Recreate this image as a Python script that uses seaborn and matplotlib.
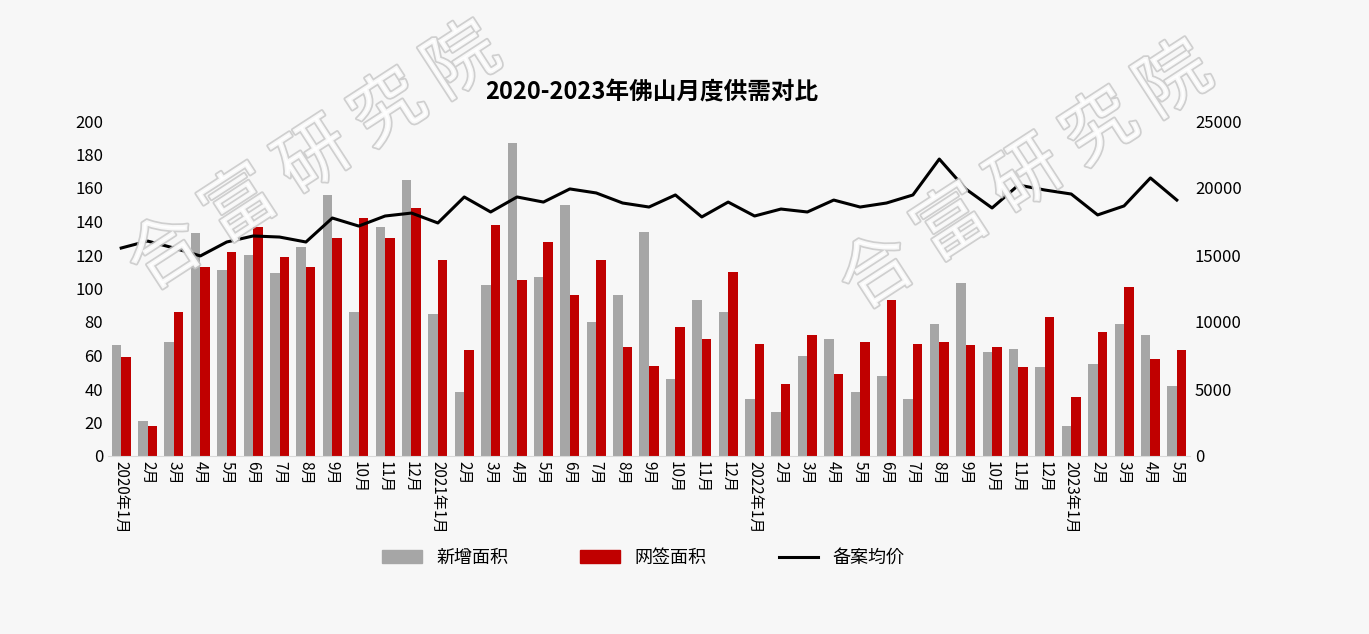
import matplotlib
matplotlib.use("Agg")
import matplotlib.pyplot as plt
import matplotlib.patheffects as pe
from matplotlib import font_manager
from matplotlib.patches import Patch
from matplotlib.lines import Line2D
import pandas as pd
import seaborn as sns

# 找中文字体
cjk = [f for f in font_manager.findSystemFonts() if "CJK" in f and ("SC" in f or "ttc" in f.lower())]
for f in cjk:
    font_manager.fontManager.addfont(f)
names = sorted({font_manager.FontProperties(fname=f).get_name() for f in cjk})
plt.rcParams["font.family"] = "sans-serif"
plt.rcParams["font.sans-serif"] = ["Noto Sans CJK SC"] + names + ["DejaVu Sans"]

# 月份标签
months = ["2020年1月"] + [f"{m}月" for m in range(2, 13)] + \
         ["2021年1月"] + [f"{m}月" for m in range(2, 13)] + \
         ["2022年1月"] + [f"{m}月" for m in range(2, 13)] + \
         ["2023年1月"] + [f"{m}月" for m in range(2, 6)]

xinzeng = [66, 21, 68, 133, 111, 120, 109, 125, 156, 86, 137, 165,
           85, 38, 102, 187, 107, 150, 80, 96, 134, 46, 93, 86,
           34, 26, 60, 70, 38, 48, 34, 79, 103, 62, 64, 53,
           18, 55, 79, 72, 42]
wangqian = [59, 18, 86, 113, 122, 137, 119, 113, 130, 142, 130, 148,
            117, 63, 138, 105, 128, 96, 117, 65, 54, 77, 70, 110,
            67, 43, 72, 49, 68, 93, 67, 68, 66, 65, 53, 83,
            35, 74, 101, 58, 63]
junjia = [15520, 16040, 15520, 14930, 15970, 16420, 16340, 15970, 17760, 17160, 17910, 18130,
          17390, 19330, 18210, 19330, 18950, 19930, 19630, 18880, 18580, 19480, 17840, 18950,
          17910, 18430, 18210, 19100, 18580, 18880, 19480, 22160, 19930, 18510, 20220, 19850,
          19550, 17990, 18660, 20750, 19100]

idx = list(range(len(months)))
df = pd.DataFrame({"idx": idx * 2,
                   "val": xinzeng + wangqian,
                   "kind": ["新增面积"] * len(idx) + ["网签面积"] * len(idx)})

fig = plt.figure(figsize=(13.69, 6.34), dpi=100, facecolor="#f7f7f7")
ax = fig.add_axes([108 / 1369, 1 - 456 / 634, 1082 / 1369, 335 / 634])
ax.set_facecolor("#f7f7f7")

sns.barplot(data=df, x="idx", y="val", hue="kind", ax=ax,
            palette={"新增面积": "#a6a6a6", "网签面积": "#c00000"},
            width=0.72, saturation=1, legend=False)
ax.set_ylim(0, 200)
ax.set_yticks(range(0, 201, 20))
ax.set_xlim(-0.5, len(months) - 0.5)
ax.set_xticks(idx)
ax.set_xticklabels(months, rotation=-90, fontsize=11)
ax.tick_params(axis="y", labelsize=12, length=0)
ax.tick_params(axis="x", length=0)
ax.set_xlabel("")
ax.set_ylabel("")
for s in ["top", "right", "left"]:
    ax.spines[s].set_visible(False)
ax.spines["bottom"].set_color("#d9d9d9")

ax2 = ax.twinx()
sns.lineplot(x=idx, y=junjia, ax=ax2, color="black", linewidth=2.2)
ax2.set_ylim(0, 25000)
ax2.set_yticks(range(0, 25001, 5000))
ax2.tick_params(axis="y", labelsize=12, length=0)
for s in ax2.spines.values():
    s.set_visible(False)

fig.text(0.476, 1 - 92 / 634, "2020-2023年佛山月度供需对比", ha="center", va="center",
         fontsize=17, fontweight="bold")

# 图例
handles = [Patch(color="#a6a6a6", label="新增面积"),
           Patch(color="#c00000", label="网签面积"),
           Line2D([0], [0], color="black", lw=2.2, label="备案均价")]
fig.legend(handles=handles, loc="center", bbox_to_anchor=(0.47, 1 - 558 / 634),
           ncol=3, frameon=False, fontsize=13, columnspacing=4, handlelength=2.2)

# 水印
for x, y in [(0.23, 0.75), (0.75, 0.72)]:
    fig.text(x, y, "合 富 研 究 院", rotation=33, fontsize=52, ha="center", va="center",
             color="white", alpha=0.85,
             path_effects=[pe.withStroke(linewidth=2.5, foreground="#c8c8c8")])

fig.savefig("out.png", dpi=100, facecolor=fig.get_facecolor())
